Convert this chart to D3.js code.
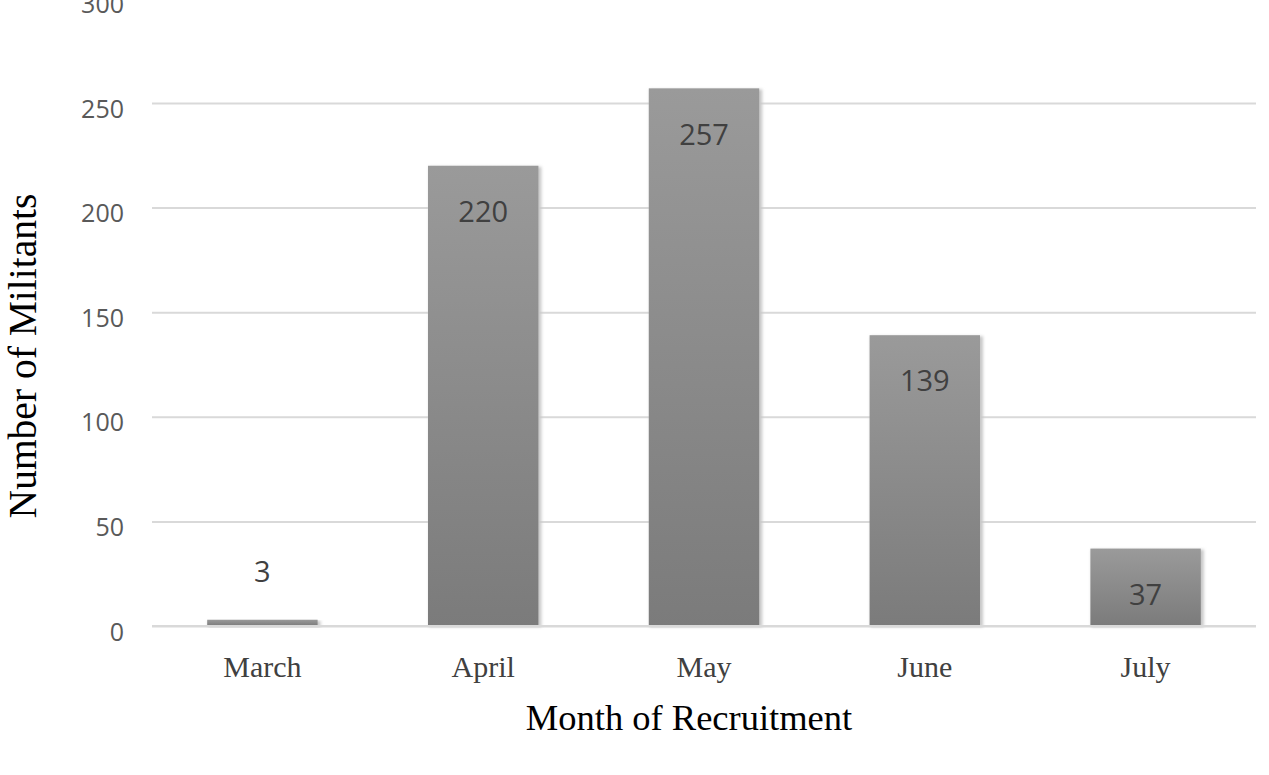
<!DOCTYPE html>
<html>
<head>
<meta charset="utf-8">
<script src="https://cdn.jsdelivr.net/npm/d3@7"></script>
<style>
  body { margin: 0; background: #fff; }
</style>
</head>
<body>
<svg id="chart"></svg>
<script>
// chart data
var months = ["March", "April", "May", "June", "July"];
var militants = [3, 220, 257, 139, 37];
var yTicks = [0, 50, 100, 150, 200, 250, 300];

var svgWidth = 1269;
var svgHeight = 775;

// plot area
var left = 152, right = 1256;
var y0 = 626, yPerUnit = 523 / 250;

var svg = d3.select("#chart")
    .attr("width", svgWidth)
    .attr("height", svgHeight);

var x = d3.scaleBand(months, [left, right]).paddingInner(0.5).paddingOuter(0.25);
var y = d3.scaleLinear([0, 300], [y0, y0 - 300 * yPerUnit]);

// bar gradient
var defs = svg.append("defs");
var grad = defs.append("linearGradient")
    .attr("id", "barGrad")
    .attr("x1", 0).attr("y1", 0).attr("x2", 0).attr("y2", 1);
grad.append("stop").attr("offset", "0%").attr("stop-color", "#9a9a9a");
grad.append("stop").attr("offset", "100%").attr("stop-color", "#7b7b7b");

var blur = defs.append("filter").attr("id", "shadow")
    .attr("x", "-10%").attr("y", "-10%").attr("width", "120%").attr("height", "120%");
blur.append("feGaussianBlur").attr("stdDeviation", 1.5);

// gridlines
var yAxis = d3.axisLeft(y).tickValues(yTicks).tickSize(-(right - left)).tickPadding(28);
var gy = svg.append("g")
    .attr("transform", "translate(" + left + ",0)")
    .call(yAxis);
gy.select(".domain").remove();
gy.selectAll(".tick line").attr("stroke", "#d9d9d9").attr("stroke-width", 2);
gy.selectAll(".tick text")
    .attr("dy", "0.56em")
    .attr("fill", "#595959")
    .style("font-family", "'Open Sans', sans-serif")
    .style("font-size", "25px");

// bars with a soft shadow
svg.selectAll("rect.shadow")
    .data(militants)
    .enter()
    .append("rect")
        .attr("class", "shadow")
        .attr("x", function (d, i) { return x(months[i]) + 1; })
        .attr("y", function (d) { return y(d) + 1; })
        .attr("width", x.bandwidth() + 2)
        .attr("height", function (d) { return y0 - y(d); })
        .attr("fill", "#c8c8c8")
        .attr("filter", "url(#shadow)");

svg.selectAll("rect.bar")
    .data(militants)
    .enter()
    .append("rect")
        .attr("class", "bar")
        .attr("x", function (d, i) { return x(months[i]); })
        .attr("y", function (d) { return y(d); })
        .attr("width", x.bandwidth())
        .attr("height", function (d) { return y0 - y(d); })
        .attr("fill", "url(#barGrad)");

// value labels
svg.selectAll("text.value")
    .data(militants)
    .enter()
    .append("text")
        .attr("class", "value")
        .attr("x", function (d, i) { return x(months[i]) + x.bandwidth() / 2; })
        .attr("y", function (d) {
            return d < 20 ? y(d) - 48 : y(d) + 46;
        })
        .attr("dy", "0.35em")
        .attr("text-anchor", "middle")
        .attr("fill", "#404040")
        .style("font-family", "'Open Sans', sans-serif")
        .style("font-size", "29px")
        .text(function (d) { return d; });

// x axis line
svg.append("line")
    .attr("x1", left).attr("x2", right)
    .attr("y1", y0).attr("y2", y0)
    .attr("stroke", "#d9d9d9").attr("stroke-width", 2);

// month labels
var xAxis = d3.axisBottom(x).tickSize(0).tickPadding(30);
var gx = svg.append("g")
    .attr("transform", "translate(0," + y0 + ")")
    .call(xAxis);
gx.select(".domain").remove();
gx.selectAll(".tick text")
    .attr("fill", "#404040")
    .style("font-family", "'Liberation Serif', 'Times New Roman', serif")
    .style("font-size", "30px");

// axis titles
svg.append("text")
    .attr("x", 689).attr("y", 730)
    .attr("text-anchor", "middle")
    .attr("fill", "#000")
    .style("font-family", "'Liberation Serif', 'Times New Roman', serif")
    .style("font-size", "36.5px")
    .text("Month of Recruitment");

svg.append("text")
    .attr("transform", "translate(36,356) rotate(-90)")
    .attr("text-anchor", "middle")
    .attr("fill", "#000")
    .style("font-family", "'Liberation Serif', 'Times New Roman', serif")
    .style("font-size", "39.5px")
    .text("Number of Militants");
</script>
</body>
</html>
